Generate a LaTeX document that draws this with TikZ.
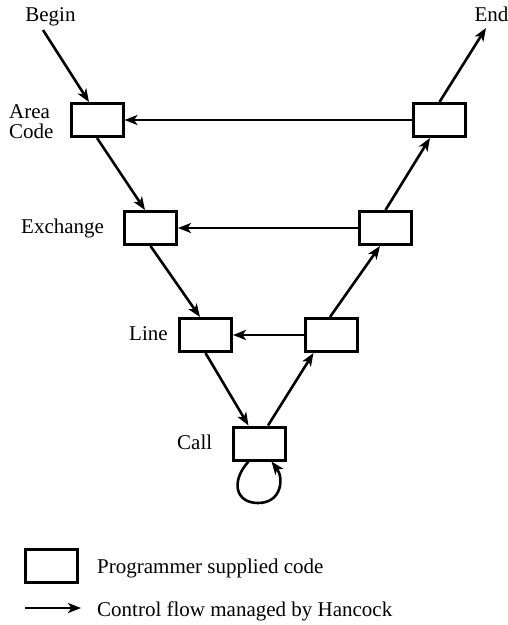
\documentclass[tikz,border=0pt]{standalone}
\usepackage{fontspec}
\setmainfont{Liberation Serif}
\usetikzlibrary{arrows.meta,calc}
\begin{document}
\begin{tikzpicture}[x=1pt,y=-1pt,
  codebox/.style={draw,line width=3pt,minimum width=52pt,minimum height=33pt,inner sep=0pt},
  flow/.style={line width=2.6pt,-{Stealth[length=13pt,width=10pt,inset=3.5pt]}},
  lbl/.style={inner sep=0pt,font=\fontsize{21}{24}\selectfont}]
\useasboundingbox (0,0) rectangle (508,625);
% boxes
\node[codebox] (ac) at (97,120) {};
\node[codebox] (ar) at (439.5,120) {};
\node[codebox] (el) at (150.5,228) {};
\node[codebox] (er) at (385.5,228) {};
\node[codebox] (ll) at (205.5,335) {};
\node[codebox] (lr) at (331.5,335) {};
\node[codebox] (call) at (259.5,443.5) {};
% labels
\node[lbl,anchor=base] (begin) at (50.5,21) {Begin};
\node[lbl,anchor=base] (end) at (491.5,21) {End};
\node[lbl,anchor=base west] (area) at (9,118) {Area};
\node[lbl,anchor=base west] (code) at (9,138) {Code};
\node[lbl,anchor=base west] (exch) at (21,233) {Exchange};
\node[lbl,anchor=base west] (line) at (129,340) {Line};
\node[lbl,anchor=base west] (calll) at (177,449) {Call};
\coordinate (b0) at (43,30);
\coordinate (e0) at (486,28);
% connectors
\draw[flow] (b0) -- ($(ac.north)+(-8,0)$);
\draw[flow] (ac.south) -- ($(el.north)+(-5.5,0)$);
\draw[flow] (el.south) -- ($(ll.north)+(-5.5,0)$);
\draw[flow] (ll.south) -- ($(call.north)+(-11,0)$);
\draw[flow] ($(call.north)+(8.5,0)$) -- ($(lr.south)+(-18,0)$);
\draw[flow] ($(lr.north)+(-1.5,0)$) -- ($(er.south)+(-5.5,0)$);
\draw[flow] (er.north) -- ($(ar.south)+(-9.5,0)$);
\draw[flow] (ar.north) -- (e0);
\draw[flow] (ar.west) -- (ac.east);
\draw[flow] (er.west) -- (el.east);
\draw[flow] (lr.west) -- (ll.east);
\draw[flow] ($(call.south)+(-11,0)$) .. controls (230,482) and (236,503) .. (258,503)
  .. controls (282,503) and (284,478) .. ($(call.south)+(12,0)$);
% legend
\node[codebox] (lbox) at (51,566) {};
\node[lbl,anchor=base west] (ltext1) at (97,573) {Programmer supplied code};
\coordinate (la0) at (25,608);
\coordinate (la1) at (81,608);
\draw[flow] (la0) -- (la1);
\node[lbl,anchor=base west] (ltext2) at (97,616) {Control flow managed by Hancock};
\end{tikzpicture}
\end{document}
